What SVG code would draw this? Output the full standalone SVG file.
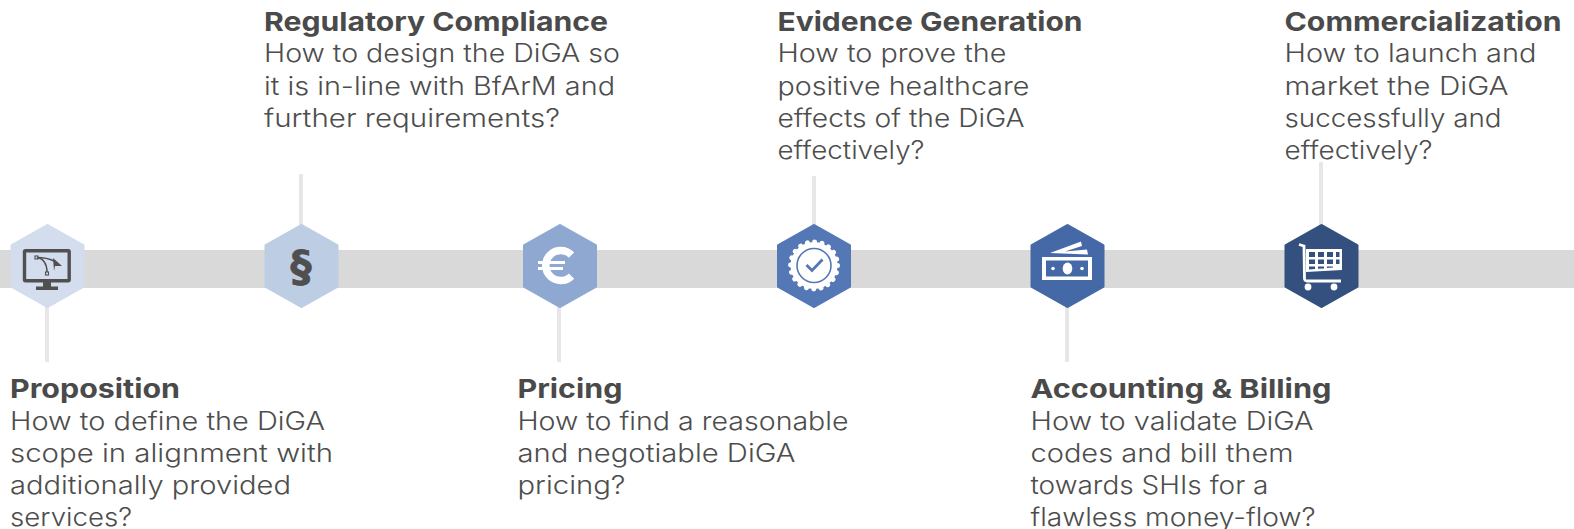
<svg xmlns="http://www.w3.org/2000/svg" width="1574" height="529" viewBox="0 0 1574 529">
<style>
text{font-family:Inter,"Open Sans","Liberation Sans",sans-serif;font-size:25.6px;font-weight:300;fill:#4d4d4d}
.h{font-weight:700;font-size:26px;fill:#4a4a4a}
.bar{fill:#d9d9d9}
.stem{stroke:#e7e7e7;stroke-width:4;fill:none}
.hex{stroke-width:3;stroke-linejoin:round}
.w{fill:#fff}
.wl{fill:none;stroke:#fff}
</style>
<defs><polygon id="hx" points="0,-40.5 35.5,-20.5 35.5,20.5 0,40.5 -35.500,20.5 -35.500,-20.5"/></defs>
<rect class="bar" x="0" y="250" width="1574" height="38"/>
<g id="connectors">
<path class="stem" d="M47 300V362"/>
<path class="stem" d="M301 174V230"/>
<path class="stem" d="M559 300V362"/>
<path class="stem" d="M814 176V230"/>
<path class="stem" d="M1067 300V362"/>
<path class="stem" d="M1321 162V230"/>
</g>
<g id="node-proposition">
<use href="#hx" x="47.500" y="266" class="hex" fill="#d3dded" stroke="#d3dded"/>
<g fill="none" stroke="#505050">
<rect x="24.500" y="250.700" width="44.700" height="30" rx="1" stroke-width="3.400"/>
<path d="M37 257.500C43 258 47 264 47 272" stroke-width="1.500"/>
<path d="M37 257.500C45 257.500 50 259 54 261" stroke-width="1.500"/>
<rect x="35" y="256" width="3" height="3" stroke-width="1.100"/><rect x="45.500" y="272" width="3" height="3" stroke-width="1.100"/>
</g>
<path d="M53 258L62 266L55 266L54 271Z" fill="#505050"/>
<path d="M43 282H51V286.500H58V290H36V286.500H43Z" fill="#505050"/>
<text x="10" y="397.500" class="h" textLength="170" lengthAdjust="spacingAndGlyphs">Proposition</text>
<text x="10" y="430" textLength="315" lengthAdjust="spacingAndGlyphs">How to define the DiGA</text>
<text x="10" y="462" textLength="323" lengthAdjust="spacingAndGlyphs">scope in alignment with</text>
<text x="10" y="494" textLength="281" lengthAdjust="spacingAndGlyphs">additionally provided</text>
<text x="10" y="525.500" textLength="122" lengthAdjust="spacingAndGlyphs">services?</text>
</g>
<g id="node-regulatory">
<use href="#hx" x="301.500" y="266" class="hex" fill="#bccde4" stroke="#bccde4"/>
<text x="301" y="281" text-anchor="middle" stroke="#4f4f4f" stroke-width="0.800" style="font-family:'DejaVu Sans',sans-serif;font-weight:700;font-size:42px;fill:#4f4f4f">§</text>
<text x="264" y="31" class="h" textLength="344" lengthAdjust="spacingAndGlyphs">Regulatory Compliance</text>
<text x="264" y="62" textLength="356" lengthAdjust="spacingAndGlyphs">How to design the DiGA so</text>
<text x="264" y="95" textLength="351" lengthAdjust="spacingAndGlyphs">it is in-line with BfArM and</text>
<text x="264" y="127" textLength="296" lengthAdjust="spacingAndGlyphs">further requirements?</text>
</g>
<g id="node-pricing">
<use href="#hx" x="560" y="266" class="hex" fill="#8fa8d2" stroke="#8fa8d2"/>
<path class="wl" stroke-width="7.500" d="M571.500 255A15 15 0 1 0 571.500 276"/>
<path class="wl" stroke-width="3" d="M538 262.500H565M538 268.500H563"/>
<text x="517.500" y="397.500" class="h" textLength="105" lengthAdjust="spacingAndGlyphs">Pricing</text>
<text x="517.500" y="430" textLength="331" lengthAdjust="spacingAndGlyphs">How to find a reasonable</text>
<text x="517.500" y="462" textLength="278" lengthAdjust="spacingAndGlyphs">and negotiable DiGA</text>
<text x="517.500" y="494" textLength="108" lengthAdjust="spacingAndGlyphs">pricing?</text>
</g>
<g id="node-evidence">
<use href="#hx" x="814" y="266" class="hex" fill="#5477b6" stroke="#5477b6"/>
<circle cx="814" cy="265.500" r="23.500" fill="#fff"/>
<circle cx="814" cy="265.500" r="23.500" fill="none" stroke="#fff" stroke-width="5" stroke-linecap="round" stroke-dasharray="0.01 7.370"/>
<circle cx="814" cy="265.500" r="17" fill="none" stroke="#5477b6" stroke-width="1.600"/>
<path d="M806.500 265L812 270.500L822.500 259.500" fill="none" stroke="#5477b6" stroke-width="2.800"/>
<text x="777.500" y="31" class="h" textLength="305" lengthAdjust="spacingAndGlyphs">Evidence Generation</text>
<text x="777.500" y="62" textLength="229" lengthAdjust="spacingAndGlyphs">How to prove the</text>
<text x="777.500" y="95" textLength="252" lengthAdjust="spacingAndGlyphs">positive healthcare</text>
<text x="777.500" y="127" textLength="247" lengthAdjust="spacingAndGlyphs">effects of the DiGA</text>
<text x="777.500" y="159" textLength="147" lengthAdjust="spacingAndGlyphs">effectively?</text>
</g>
<g id="node-accounting">
<use href="#hx" x="1067.500" y="266" class="hex" fill="#4568a6" stroke="#4568a6"/>
<path class="w" d="M1050 253L1081 241.500L1082 246L1065 251.500L1087 249.500L1088 254.500Z"/>
<path class="w" fill-rule="evenodd" d="M1042 257H1092V280H1042ZM1046 260.500V276.500H1088V260.500Z"/>
<ellipse class="w" cx="1067.500" cy="268.500" rx="4.800" ry="6"/>
<circle class="w" cx="1053" cy="268.500" r="1.800"/><circle class="w" cx="1082" cy="268.500" r="1.800"/>
<text x="1030.500" y="397.500" class="h" textLength="301" lengthAdjust="spacingAndGlyphs">Accounting &amp; Billing</text>
<text x="1030.500" y="430" textLength="283" lengthAdjust="spacingAndGlyphs">How to validate DiGA</text>
<text x="1030.500" y="462" textLength="263" lengthAdjust="spacingAndGlyphs">codes and bill them</text>
<text x="1030.500" y="494" textLength="238" lengthAdjust="spacingAndGlyphs">towards SHIs for a</text>
<text x="1030.500" y="525.500" textLength="285" lengthAdjust="spacingAndGlyphs">flawless money-flow?</text>
</g>
<g id="node-commercialization">
<use href="#hx" x="1321.500" y="266" class="hex" fill="#34507e" stroke="#34507e"/>
<path class="wl" stroke-width="2.800" d="M1299 244.500L1304 246L1304.500 279Q1305 281 1307 281H1341"/>
<path class="w" d="M1306 249L1342 249V270L1306 272ZM1309 252V257H1315V252ZM1318 252V257H1324V252ZM1327 252V257H1333V252ZM1336 252V257H1339.500V252ZM1309 259.500V264H1315V259.500ZM1318 259.500V264H1324V259.500ZM1327 259.500V264H1333V259.500ZM1336 259.500V264H1339.500V259.500ZM1309 266.500V269.500L1315 269V266.500ZM1318 266.500V268.800L1324 268.400V266.500ZM1327 266.500V268L1333 267.600V266.500Z" fill-rule="evenodd"/>
<circle class="w" cx="1308" cy="287" r="3.400"/><circle class="w" cx="1334" cy="287" r="3.400"/>
<text x="1284.500" y="31" class="h" textLength="277" lengthAdjust="spacingAndGlyphs">Commercialization</text>
<text x="1284.500" y="62" textLength="252" lengthAdjust="spacingAndGlyphs">How to launch and</text>
<text x="1284.500" y="95" textLength="224" lengthAdjust="spacingAndGlyphs">market the DiGA</text>
<text x="1284.500" y="127" textLength="217" lengthAdjust="spacingAndGlyphs">successfully and</text>
<text x="1284.500" y="159" textLength="148" lengthAdjust="spacingAndGlyphs">effectively?</text>
</g>
</svg>
